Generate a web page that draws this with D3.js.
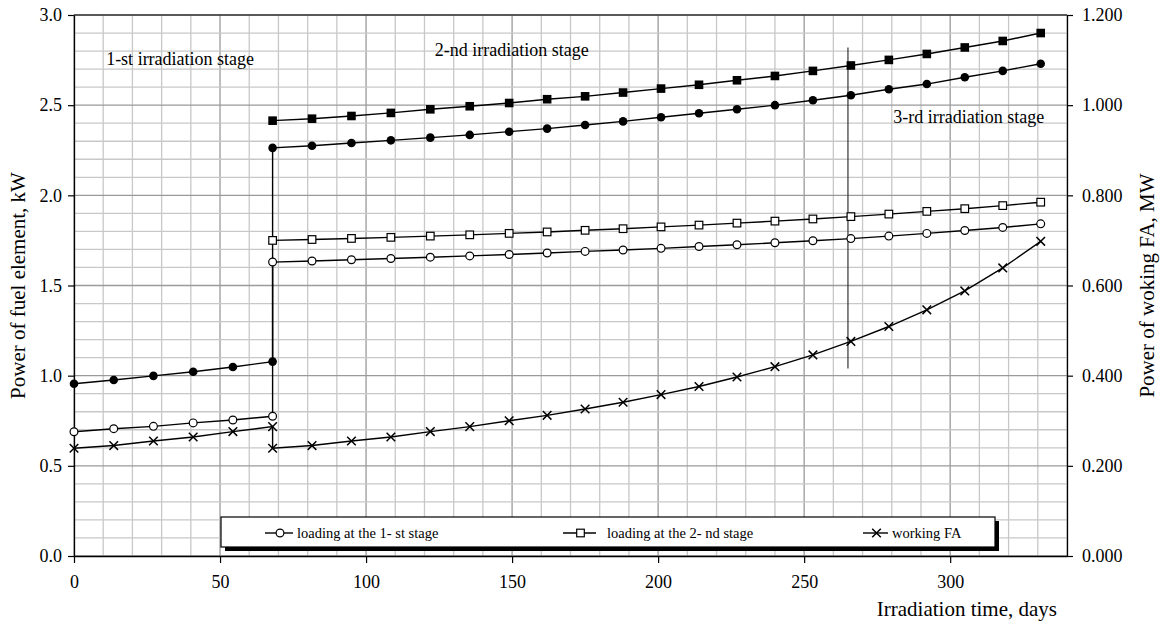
<!DOCTYPE html>
<html>
<head>
<meta charset="utf-8">
<script src="https://cdn.jsdelivr.net/npm/d3@7/dist/d3.min.js"></script>
<style>
  html, body { margin: 0; padding: 0; background: #fff; }
  svg { display: block; }
  text { font-family: "Liberation Serif", "Times New Roman", serif; fill: #000; }
</style>
</head>
<body>
<svg id="chart" width="1160" height="625"></svg>
<script>
// ---------- data ----------
const stage1Days = [0, 13.6, 27.2, 40.8, 54.4, 68];
const stage2Days = [68, 81.5, 95, 108.5, 122, 135.5, 149, 162, 175, 188, 201, 214, 227, 240, 253, 266, 279, 292, 305, 318, 331];

// fuel element power, kW (left axis)
const load1Stage1 = [0.689, 0.706, 0.719, 0.738, 0.754, 0.775];
const load1Stage2 = [1.63, 1.636, 1.643, 1.65, 1.657, 1.664, 1.672, 1.68, 1.689, 1.697, 1.706, 1.716, 1.726, 1.737, 1.748, 1.76, 1.774, 1.789, 1.805, 1.822, 1.842];
const load2Stage2 = [1.75, 1.755, 1.761, 1.767, 1.774, 1.781, 1.789, 1.797, 1.806, 1.815, 1.825, 1.835, 1.846, 1.857, 1.869, 1.882, 1.896, 1.911, 1.926, 1.943, 1.962];
const maxLoad1Stage1 = [0.955, 0.976, 0.999, 1.022, 1.048, 1.078];
const maxLoad1Stage2 = [2.263, 2.275, 2.29, 2.305, 2.32, 2.335, 2.353, 2.37, 2.39, 2.41, 2.433, 2.455, 2.477, 2.5, 2.527, 2.555, 2.588, 2.617, 2.655, 2.69, 2.73];
const maxLoad2Stage2 = [2.414, 2.425, 2.44, 2.457, 2.477, 2.494, 2.512, 2.533, 2.549, 2.57, 2.592, 2.613, 2.638, 2.662, 2.69, 2.72, 2.751, 2.784, 2.82, 2.856, 2.9];

// working FA power, MW (right axis)
const workFAStage1 = [0.239, 0.245, 0.255, 0.264, 0.276, 0.287];
const workFAStage2 = [0.239, 0.245, 0.255, 0.264, 0.276, 0.287, 0.300, 0.312, 0.326, 0.341, 0.358, 0.376, 0.397, 0.420, 0.446, 0.476, 0.509, 0.546, 0.588, 0.639, 0.698];

const stageMarkerDay = 265;
const stageMarkerRange = [1.04, 2.82];

const xTicks = [0, 50, 100, 150, 200, 250, 300];
const yLeftTicks = [0, 0.5, 1.0, 1.5, 2.0, 2.5, 3.0];
const yRightTicks = [0, 0.2, 0.4, 0.6, 0.8, 1.0, 1.2];

const stageLabels = [
  { text: "1-st irradiation stage", day: 11, val: 2.72 },
  { text: "2-nd irradiation stage", day: 123.5, val: 2.77 },
  { text: "3-rd irradiation stage", day: 280.5, val: 2.40 }
];
const legendNames = ["loading at the 1- st stage", "loading at the 2- nd stage", "working FA"];

// ---------- layout ----------
const SERIF = "'Liberation Serif', 'Times New Roman', serif";
const svg = d3.select("#chart");
const L = 74, R = 1067, T = 15, B = 556;
const x = d3.scaleLinear().domain([0, 340]).range([L, R]);
const yL = d3.scaleLinear().domain([0, 3]).range([B, T]);
const yR = d3.scaleLinear().domain([0, 1.2]).range([B, T]);

// grid
const grid = svg.append("g");
d3.range(0, 341, 10).forEach(d => {
  grid.append("line").attr("x1", x(d)).attr("x2", x(d)).attr("y1", T).attr("y2", B)
    .attr("stroke", d % 50 === 0 ? "#9a9a9a" : "#c8c8c8").attr("stroke-width", 1.3);
});
d3.range(0, 31, 1).forEach(i => {
  const v = i / 10;
  grid.append("line").attr("x1", L).attr("x2", R).attr("y1", yL(v)).attr("y2", yL(v))
    .attr("stroke", i % 5 === 0 ? "#9a9a9a" : "#c8c8c8").attr("stroke-width", 1.3);
});

// frame
svg.append("line").attr("x1", L).attr("x2", R).attr("y1", T).attr("y2", T).attr("stroke", "#000").attr("stroke-width", 1.2);

// axes
const xAxis = svg.append("g").attr("transform", `translate(0,${B})`)
  .call(d3.axisBottom(x).tickValues(xTicks).tickSize(7).tickSizeOuter(0).tickPadding(12).tickFormat(d3.format("d")));
const yAxisL = svg.append("g").attr("transform", `translate(${L},0)`)
  .call(d3.axisLeft(yL).tickValues(yLeftTicks).tickSize(6).tickSizeOuter(0).tickPadding(6).tickFormat(d3.format(".1f")));
const yAxisR = svg.append("g").attr("transform", `translate(${R},0)`)
  .call(d3.axisRight(yR).tickValues(yRightTicks).tickSize(6).tickSizeOuter(0).tickPadding(9).tickFormat(d3.format(".3f")));
[xAxis, yAxisL, yAxisR].forEach(g => {
  g.attr("font-family", null).attr("font-size", null);
  g.selectAll(".domain").attr("stroke", "#000").attr("stroke-width", 1.3);
  g.selectAll(".tick line").attr("stroke", "#000").attr("stroke-width", 1.2);
  g.selectAll(".tick text").style("font-size", "18px").style("font-family", SERIF).attr("fill", "#000");
});

// axis titles
svg.append("text").attr("x", 1057).attr("y", 616).attr("text-anchor", "end").style("font-size", "21px").text("Irradiation time, days");
svg.append("text").attr("transform", `translate(25,${(T + B) / 2}) rotate(-90)`).attr("text-anchor", "middle").style("font-size", "21px").text("Power of fuel element, kW");
svg.append("text").attr("transform", `translate(1154,${(T + B) / 2}) rotate(-90)`).attr("text-anchor", "middle").style("font-size", "21px").text("Power of woking FA, MW");

// stage labels
stageLabels.forEach(s => {
  svg.append("text").attr("x", x(s.day)).attr("y", yL(s.val)).style("font-size", "18px").text(s.text);
});

// stage marker line
svg.append("line").attr("x1", x(stageMarkerDay)).attr("x2", x(stageMarkerDay))
  .attr("y1", yL(stageMarkerRange[0])).attr("y2", yL(stageMarkerRange[1]))
  .attr("stroke", "#333").attr("stroke-width", 1.2);

// series
const zip = (days, vals) => days.map((d, i) => [d, vals[i]]);
const series = [
  { pts: zip(stage1Days, maxLoad1Stage1).concat(zip(stage2Days, maxLoad1Stage2)), y: yL, mark: "circleFilled" },
  { pts: zip(stage2Days, maxLoad2Stage2), y: yL, mark: "squareFilled" },
  { pts: zip(stage1Days, load1Stage1).concat(zip(stage2Days, load1Stage2)), y: yL, mark: "circleOpen" },
  { pts: zip(stage2Days, load2Stage2), y: yL, mark: "squareOpen" },
  { pts: zip(stage1Days, workFAStage1).concat(zip(stage2Days, workFAStage2)), y: yR, mark: "cross" }
];

function drawMarker(g, type, cx, cy) {
  if (type === "circleFilled") g.append("circle").attr("cx", cx).attr("cy", cy).attr("r", 4.3).attr("fill", "#000");
  else if (type === "circleOpen") g.append("circle").attr("cx", cx).attr("cy", cy).attr("r", 3.9).attr("fill", "#fff").attr("stroke", "#000").attr("stroke-width", 1.2);
  else if (type === "squareFilled") g.append("rect").attr("x", cx - 4.3).attr("y", cy - 4.3).attr("width", 8.6).attr("height", 8.6).attr("fill", "#000");
  else if (type === "squareOpen") g.append("rect").attr("x", cx - 3.8).attr("y", cy - 3.8).attr("width", 7.6).attr("height", 7.6).attr("fill", "#fff").attr("stroke", "#000").attr("stroke-width", 1.2);
  else if (type === "cross") {
    g.append("path").attr("d", `M${cx - 4.3},${cy - 4.3}L${cx + 4.3},${cy + 4.3}M${cx - 4.3},${cy + 4.3}L${cx + 4.3},${cy - 4.3}`)
      .attr("stroke", "#000").attr("stroke-width", 1.5);
  }
}

series.forEach(s => {
  const line = d3.line().x(d => x(d[0])).y(d => s.y(d[1]));
  svg.append("path").attr("d", line(s.pts)).attr("fill", "none").attr("stroke", "#000").attr("stroke-width", 1.4);
});
series.forEach(s => {
  const g = svg.append("g");
  s.pts.forEach(d => drawMarker(g, s.mark, x(d[0]), s.y(d[1])));
});

// legend
const lg = svg.append("g");
lg.append("rect").attr("x", 225).attr("y", 521).attr("width", 774).attr("height", 30).attr("fill", "#000");
lg.append("rect").attr("x", 221).attr("y", 517).attr("width", 774).attr("height", 30).attr("fill", "#fff").attr("stroke", "#000").attr("stroke-width", 1.2);
const legendItems = [
  { x0: 265, x1: 293, tx: 297, mark: "circleOpen" },
  { x0: 563, x1: 596, tx: 607, mark: "squareOpen" },
  { x0: 863, x1: 888, tx: 892, mark: "cross" }
];
const ly = 533;
legendItems.forEach((it, i) => {
  lg.append("line").attr("x1", it.x0).attr("x2", it.x1).attr("y1", ly).attr("y2", ly).attr("stroke", "#000").attr("stroke-width", 1.4);
  drawMarker(lg, it.mark, (it.x0 + it.x1) / 2 + 1, ly);
  lg.append("text").attr("x", it.tx).attr("y", ly + 5).style("font-size", "14.5px").text(legendNames[i]);
});
</script>
</body>
</html>
